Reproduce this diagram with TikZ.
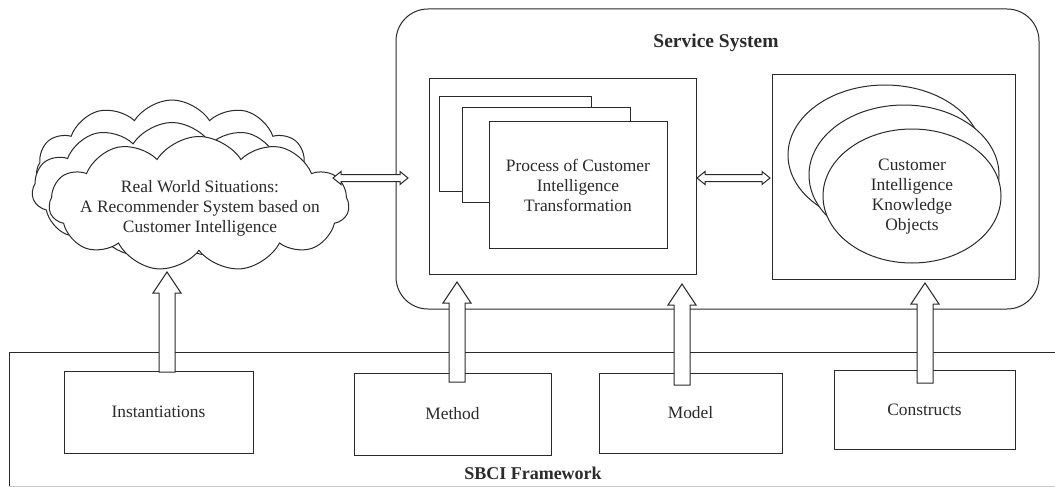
\documentclass[tikz,border=0pt]{standalone}
\usepackage{fontspec}
\setmainfont{Liberation Serif}
\usetikzlibrary{shapes.symbols,shapes.geometric,calc}
\definecolor{ink}{HTML}{2A2A2A}
\newcommand{\hollowup}[2]{%
  \path[hollow] let \p1=(#1), \p2=(#2) in
    (\x1-8pt,\y1) -- (\x1-8pt,\y2-21pt) -- (\x1-14pt,\y2-21pt) -- (\x1,\y2)
    -- (\x1+14pt,\y2-21pt) -- (\x1+8pt,\y2-21pt) -- (\x1+8pt,\y1) -- cycle;}
\newcommand{\hollowlr}[2]{%
  \path[hollow] let \p1=(#1), \p2=(#2) in
    (\x1,\y1) -- (\x1+8pt,\y1+6.5pt) -- (\x1+8pt,\y1+3.5pt) -- (\x2-8pt,\y1+3.5pt)
    -- (\x2-8pt,\y1+6.5pt) -- (\x2,\y1) -- (\x2-8pt,\y1-6.5pt) -- (\x2-8pt,\y1-3.5pt)
    -- (\x1+8pt,\y1-3.5pt) -- (\x1+8pt,\y1-6.5pt) -- cycle;}
\begin{document}
\begin{tikzpicture}[x=1pt,y=-1pt,line width=1pt,draw=ink,text=ink,
  every node/.style={inner sep=0pt,outer sep=0pt},
  txt/.style={align=center,font=\fontsize{17.4}{20}\selectfont},
  ttl/.style={font=\fontsize{19.5}{22}\selectfont\bfseries},
  box/.style={draw=ink,fill=white,rectangle},
  oval/.style={draw=ink,fill=white,ellipse},
  puff/.style={draw=ink,fill=white,cloud,cloud puffs=11,cloud puff arc=115,aspect=2.2},
  hollow/.style={draw=ink,fill=white,line width=1pt,line join=miter}]
\useasboundingbox (0,0) rectangle (1055,487);
\fill[white] (0,0) rectangle (1055,487);

% SBCI framework
\node[minimum width=1062,minimum height=134] (frame) at (540,419) {};
\draw[gray!45] (frame.south west) -- (frame.south east);
\draw (frame.south west) -- (frame.north west) -- (frame.north east);
\node[ttl,font=\fontsize{18}{20}\selectfont\bfseries] (frametitle) at (533,473) {SBCI Framework};

% Service system
\node[draw=ink,rectangle,rounded corners=32pt,minimum width=643,minimum height=300] (service) at (717.5,159) {};
\node[ttl] (servicetitle) at (716,43) {Service System};

% Left inner box with stacked process sheets
\node[box,minimum width=267,minimum height=195] (leftbox) at (562.5,176.5) {};
\node[box,minimum width=152,minimum height=95] (p1) at (515,143.5) {};
\node[box,minimum width=168,minimum height=95] (p2) at (546,154.5) {};
\node[box,minimum width=178,minimum height=127] (p3) at (578,184.5) {};
\node[txt] (ptext) at (578,185) {Process of Customer\\Intelligence\\Transformation};

% Right inner box with stacked ellipses
\node[box,minimum width=243,minimum height=204] (rightbox) at (893.5,177) {};
\node[oval,minimum width=194,minimum height=140] (e1) at (885,155) {};
\node[oval,minimum width=190,minimum height=140] (e2) at (904,175) {};
\node[oval,minimum width=178,minimum height=134] (e3) at (912,196) {};
\node[txt] (etext) at (912,197) {Customer\\Intelligence\\Knowledge\\Objects};

% Clouds
\node[puff,minimum width=272,minimum height=140] (c1) at (172,170) {};
\node[puff,minimum width=280,minimum height=135] (c2) at (172,190) {};
\node[puff,minimum width=300,minimum height=135] (c3) at (199,204) {};
\node[txt] (ctext) at (200,208) {Real World Situations:\\A Recommender System based on\\Customer Intelligence};

% Framework boxes
\node[box,minimum width=189,minimum height=82] (inst) at (158.5,412) {};
\node[txt] at (inst) {Instantiations};
\node[box,minimum width=197,minimum height=82] (method) at (452.5,414) {};
\node[txt] at (method) {Method};
\node[box,minimum width=183,minimum height=80] (model) at (690.5,413) {};
\node[txt] at (model) {Model};
\node[box,minimum width=181,minimum height=79] (constructs) at (924.5,409.5) {};
\node[txt] at (constructs) {Constructs};

% connector end points
\coordinate (a1s) at (167,372);  \coordinate (a1e) at (167,272);
\coordinate (a2s) at (457,382);  \coordinate (a2e) at (457,282);
\coordinate (a3s) at (682,385);  \coordinate (a3e) at (682,284);
\coordinate (a4s) at (925,383);  \coordinate (a4e) at (925,283);
\coordinate (d1s) at (333,178);  \coordinate (d1e) at (408,178);
\coordinate (d2s) at (697,178);  \coordinate (d2e) at (770,178);

\hollowup{a1s}{a1e}
\hollowup{a2s}{a2e}
\hollowup{a3s}{a3e}
\hollowup{a4s}{a4e}
\hollowlr{d1s}{d1e}
\hollowlr{d2s}{d2e}
\end{tikzpicture}
\end{document}
